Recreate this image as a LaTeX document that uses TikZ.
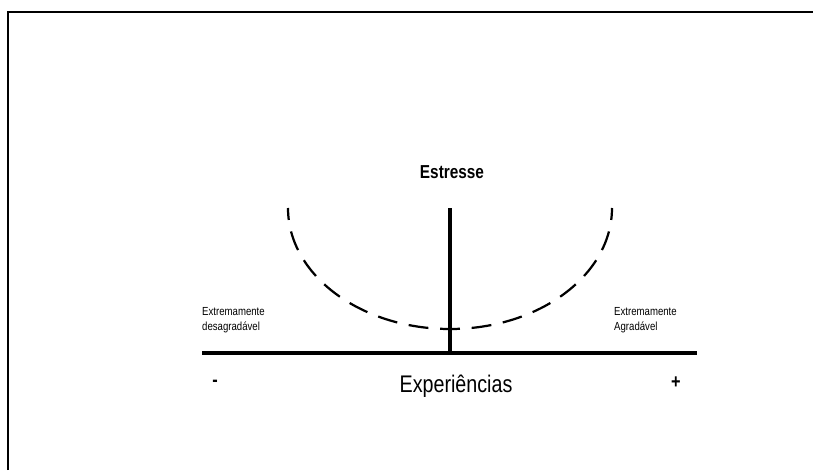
\documentclass[tikz,border=0pt]{standalone}
\usepackage{fontspec}
\setmainfont{Liberation Sans}[FakeStretch=0.82]
\usetikzlibrary{positioning}
\tikzset{
  axisline/.style={line width=3pt},
  curvedash/.style={line width=1.9pt,dash pattern=on 17pt off 10pt,dash phase=8.5pt},
  extlabel/.style={font=\fontsize{10}{12.8}\selectfont,align=left,anchor=west,inner sep=0pt},
  signlabel/.style={font=\fontsize{17}{18}\selectfont\bfseries,inner sep=0pt},
}
\begin{document}
\begin{tikzpicture}[x=0.03cm,y=0.03cm]
    \useasboundingbox (0,0) rectangle (813,470);
    \draw[line width=1.7pt] (8,0) -- (8,458) -- (813,458);
    \coordinate (xl) at (202,117);
    \coordinate (xr) at (697,117);
    \coordinate (orig) at (450,117);
    \coordinate (ytop) at (450,262);
    \draw[axisline] (xl) -- (xr);
    \draw[axisline] (orig) -- (ytop);
    % dashed bowl
    \coordinate (bowl) at (450,141);
    \draw[curvedash] (bowl) arc[start angle=270,end angle=180,x radius=162,y radius=121];
    \draw[curvedash] (bowl) arc[start angle=270,end angle=360,x radius=162,y radius=121];
    \node[font=\fontsize{16}{18}\selectfont\bfseries] (stress) at (452,298) {Estresse};
    \node[font=\fontsize{20.5}{24}\selectfont] (exper) at (456,84) {Experiências};
    \node[signlabel] (minus) at (215,87) {-};
    \node[signlabel] (plus) at (676,87) {+};
    \node[extlabel] (bad) at (202,150) {Extremamente\\desagradável};
    \node[extlabel] (good) at (614,150) {Extremamente\\Agradável};
  \end{tikzpicture}
\end{document}
